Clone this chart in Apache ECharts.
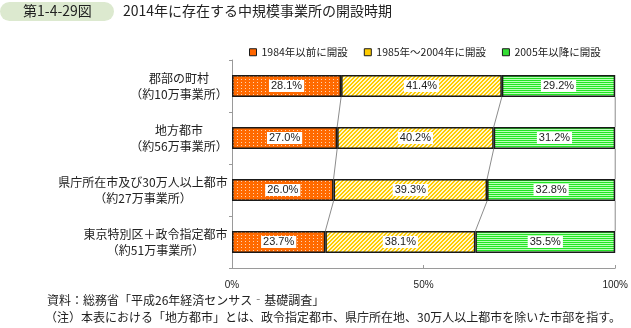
<!DOCTYPE html>
<html>
<head>
<meta charset="utf-8">
<script src="https://cdn.jsdelivr.net/npm/echarts@6/dist/echarts.min.js"></script>
<style>
  html, body { margin: 0; padding: 0; background: #fff; }
  #chart { width: 631px; height: 328px; }
</style>
</head>
<body>
<div id="chart"></div>
<script>
// Categories (top to bottom) and the share of establishments by opening period (%)
const categories = [
  ['郡部の町村', '（約10万事業所）'],
  ['地方都市', '（約56万事業所）'],
  ['県庁所在市及び30万人以上都市', '（約27万事業所）'],
  ['東京特別区＋政令指定都市', '（約51万事業所）']
];
const seriesNames = ['1984年以前に開設', '1985年～2004年に開設', '2005年以降に開設'];
const before1984 = [28.1, 27.0, 26.0, 23.7];
const from1985to2004 = [41.4, 40.2, 39.3, 38.1];
const since2005 = [29.2, 31.2, 32.8, 35.5];
const xTicks = [0, 50, 100];

const FONT = '"Noto Sans CJK JP", "Noto Sans", sans-serif';
const LABEL_SIZE = 12;

// Small repeating fill patterns
function makePattern(w, h, draw) {
  const c = document.createElement('canvas');
  c.width = w; c.height = h;
  draw(c.getContext('2d'));
  return c;
}
const dotPattern = makePattern(4, 3, ctx => {
  ctx.fillStyle = '#ff6a00'; ctx.fillRect(0, 0, 4, 3);
  ctx.fillStyle = '#ffd2b0'; ctx.fillRect(1, 1, 1, 1);
});
const diagPattern = makePattern(4, 4, ctx => {
  ctx.fillStyle = '#ffcc00'; ctx.fillRect(0, 0, 4, 4);
  ctx.fillStyle = '#fff6cc';
  for (let y = 0; y < 4; y++) for (let x = 0; x < 4; x++) {
    if ((x + y) % 4 === 0 || (x + y) % 4 === 1) ctx.fillRect(x, y, 1, 1);
  }
});
const hLinePattern = makePattern(2, 2, ctx => {
  ctx.fillStyle = '#22e622'; ctx.fillRect(0, 0, 2, 1);
  ctx.fillStyle = '#b8ffb8'; ctx.fillRect(0, 1, 2, 1);
});
const fills = [
  { image: dotPattern, repeat: 'repeat' },
  { image: diagPattern, repeat: 'repeat' },
  { image: hLinePattern, repeat: 'repeat' }
];
const legendColors = ['#ff6600', '#ffcc00', '#33dd33'];

// Two-line category labels, lines centred on each other, block right-aligned
const measureCtx = document.createElement('canvas').getContext('2d');
measureCtx.font = LABEL_SIZE + 'px ' + FONT;
const rich = {};
categories.forEach((lines, i) => {
  const w = Math.ceil(Math.max(...lines.map(t => measureCtx.measureText(t).width)));
  rich['c' + i] = { width: w, align: 'center', fontSize: LABEL_SIZE, lineHeight: 16,
                    fontFamily: FONT, color: '#222' };
});
const catKeys = categories.map((_, i) => String(i));

// 100% stacking: each segment is drawn as its share of the row total,
// while the label keeps the published percentage.
const values = [before1984, from1985to2004, since2005];
const rowTotals = categories.map((_, i) => values.reduce((s, arr) => s + arr[i], 0));
const barSeries = values.map((arr, s) => ({
  name: seriesNames[s],
  type: 'bar',
  stack: 'total',
  barWidth: 22,
  data: arr.map((v, i) => ({ value: v / rowTotals[i] * 100, raw: v })),
  itemStyle: { color: fills[s], borderColor: '#1a1a1a', borderWidth: 1.5 },
  label: {
    show: true,
    position: 'inside',
    formatter: p => p.data.raw.toFixed(1) + '%',
    color: '#222',
    fontSize: 11,
    fontFamily: '"Liberation Sans", Arial, sans-serif',
    backgroundColor: '#fff',
    padding: [1, 2, 0, 2]
  }
}));

// Series lines joining each cumulative boundary between neighbouring bars
const linkData = [];
for (let i = 0; i < categories.length - 1; i++) {
  let a = 0, b = 0;
  for (let s = 0; s < values.length; s++) {
    a += values[s][i] / rowTotals[i] * 100;
    b += values[s][i + 1] / rowTotals[i + 1] * 100;
    linkData.push([a, i, b, i + 1]);
  }
}
const linkSeries = {
  type: 'custom',
  silent: true,
  z: 1,
  encode: { x: [0, 2], y: [1, 3] },
  data: linkData,
  renderItem: (params, api) => {
    const p1 = api.coord([api.value(0), api.value(1)]);
    const p2 = api.coord([api.value(2), api.value(3)]);
    const half = 11;
    return {
      type: 'line',
      shape: { x1: p1[0], y1: p1[1] + half, x2: p2[0], y2: p2[1] - half },
      style: { stroke: '#8c8c8c', lineWidth: 1 }
    };
  }
};

const chart = echarts.init(document.getElementById('chart'), null, { renderer: 'canvas' });
chart.setOption({
  animation: false,
  textStyle: { fontFamily: FONT },
  grid: { left: 232, right: 11, top: 60, bottom: 60, containLabel: false },
  legend: {
    top: 42,
    left: 244,
    itemWidth: 7,
    itemHeight: 7,
    itemGap: 16,
    textStyle: { fontSize: 10.5, color: '#222', fontFamily: FONT },
    data: seriesNames.map((n, i) => ({
      name: n, icon: 'rect',
      itemStyle: { color: legendColors[i], borderColor: '#1a1a1a', borderWidth: 1 }
    }))
  },
  xAxis: {
    type: 'value',
    min: xTicks[0],
    max: xTicks[xTicks.length - 1],
    interval: xTicks[1] - xTicks[0],
    axisLine: { show: true, lineStyle: { color: '#9a9a9a', width: 1 } },
    axisTick: { show: true, inside: true, length: 3, lineStyle: { color: '#9a9a9a' } },
    splitLine: { show: false },
    axisLabel: { formatter: '{value}%', fontSize: 10, color: '#222', margin: 12,
                 fontFamily: '"Liberation Sans", Arial, sans-serif' }
  },
  yAxis: {
    type: 'category',
    inverse: true,
    data: catKeys,
    axisLine: { show: true, lineStyle: { color: '#9a9a9a', width: 1 } },
    axisTick: { show: true, length: 3, lineStyle: { color: '#9a9a9a' } },
    axisLabel: {
      margin: 4,
      formatter: (v) => {
        const i = Number(v);
        return categories[i].map(t => '{c' + i + '|' + t + '}').join('\n');
      },
      rich: rich
    }
  },
  graphic: [
    { type: 'rect', left: 0, top: 2, shape: { width: 114, height: 19, r: 9.5 },
      style: { fill: '#dce9cf' } },
    { type: 'text', left: 23, top: 4, style: { text: '第1-4-29図', fontSize: 14,
      fontFamily: FONT, fill: '#222' } },
    { type: 'text', left: 123, top: 4, style: { text: '2014年に存在する中規模事業所の開設時期',
      fontSize: 14, fontFamily: FONT, fill: '#222' } },
    { type: 'text', left: 47, top: 294, style: { text: '資料：総務省「平成26年経済センサス‐基礎調査」',
      fontSize: 12, fontFamily: FONT, fill: '#222' } },
    { type: 'text', left: 45, top: 311, style: { text: '（注）本表における「地方都市」とは、政令指定都市、県庁所在地、30万人以上都市を除いた市部を指す。',
      fontSize: 12, fontFamily: FONT, fill: '#222' } }
  ],
  series: [linkSeries].concat(barSeries)
});
</script>
</body>
</html>
